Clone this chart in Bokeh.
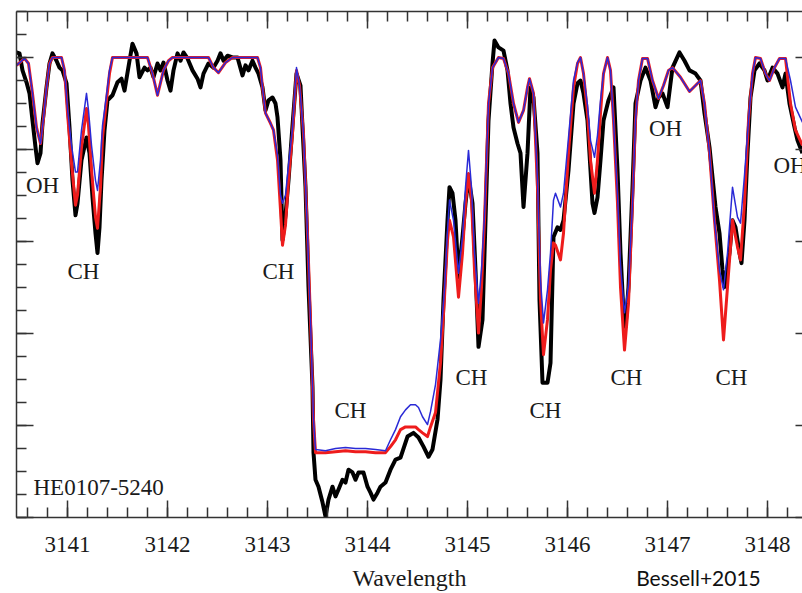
from bokeh.plotting import figure
from bokeh.models import Label, LinearAxis, SingleIntervalTicker, FixedTicker, Range1d
from bokeh.embed import file_html
from bokeh.resources import INLINE

# Observed spectrum (black)
obs_wl = [3140.49, 3140.52, 3140.55, 3140.59, 3140.62, 3140.65, 3140.68, 3140.70, 3140.73, 3140.75,
          3140.79, 3140.82, 3140.85, 3140.89, 3140.92, 3140.95, 3140.99, 3141.02, 3141.05, 3141.08,
          3141.10, 3141.14, 3141.19, 3141.22, 3141.25, 3141.28, 3141.30, 3141.32, 3141.34, 3141.37,
          3141.40, 3141.45, 3141.50, 3141.54, 3141.57, 3141.62, 3141.65, 3141.69, 3141.72, 3141.77,
          3141.80, 3141.83, 3141.86, 3141.90, 3141.93, 3141.96, 3142.00, 3142.03, 3142.06, 3142.10,
          3142.13, 3142.16, 3142.20, 3142.25, 3142.30, 3142.33, 3142.36, 3142.41, 3142.46, 3142.50,
          3142.53, 3142.56, 3142.60, 3142.65, 3142.70, 3142.75, 3142.78, 3142.81, 3142.85, 3142.88,
          3142.91, 3142.95, 3142.98, 3143.01, 3143.05, 3143.08, 3143.10, 3143.13, 3143.15, 3143.18,
          3143.21, 3143.25, 3143.29, 3143.33, 3143.35, 3143.38, 3143.41, 3143.45, 3143.46, 3143.48,
          3143.51, 3143.55, 3143.58, 3143.61, 3143.65, 3143.68, 3143.71, 3143.75, 3143.78, 3143.81,
          3143.85, 3143.88, 3143.91, 3143.96, 3144.00, 3144.03, 3144.06, 3144.10, 3144.13, 3144.18,
          3144.23, 3144.28, 3144.33, 3144.40, 3144.46, 3144.51, 3144.56, 3144.61, 3144.65, 3144.70,
          3144.73, 3144.76, 3144.80, 3144.82, 3144.85, 3144.88, 3144.91, 3144.95, 3144.98, 3145.01,
          3145.05, 3145.08, 3145.11, 3145.15, 3145.18, 3145.21, 3145.25, 3145.27, 3145.31, 3145.36,
          3145.40, 3145.43, 3145.46, 3145.50, 3145.53, 3145.56, 3145.60, 3145.63, 3145.66, 3145.70,
          3145.72, 3145.75, 3145.80, 3145.83, 3145.86, 3145.90, 3145.93, 3145.96, 3146.01, 3146.06,
          3146.10, 3146.13, 3146.16, 3146.20, 3146.23, 3146.25, 3146.27, 3146.30, 3146.33, 3146.36,
          3146.41, 3146.46, 3146.50, 3146.53, 3146.56, 3146.58, 3146.61, 3146.65, 3146.68, 3146.73,
          3146.78, 3146.83, 3146.88, 3146.91, 3146.95, 3147.00, 3147.05, 3147.12, 3147.17, 3147.22,
          3147.28, 3147.33, 3147.37, 3147.42, 3147.45, 3147.48, 3147.52, 3147.55, 3147.57, 3147.62,
          3147.65, 3147.68, 3147.72, 3147.74, 3147.77, 3147.80, 3147.83, 3147.87, 3147.92, 3147.97,
          3148.00, 3148.05, 3148.10, 3148.15, 3148.18, 3148.22, 3148.27, 3148.30, 3148.35]
obs_flux = [1.011, 1.009, 0.972, 0.946, 0.922, 0.863, 0.805, 0.770, 0.792, 0.857,
            0.935, 0.987, 1.009, 0.993, 0.978, 0.972, 0.944, 0.848, 0.733, 0.657,
            0.683, 0.777, 0.826, 0.792, 0.696, 0.618, 0.575, 0.631, 0.733, 0.842,
            0.907, 0.918, 0.946, 0.954, 0.928, 0.993, 1.030, 1.009, 0.957, 0.978,
            0.972, 0.978, 0.957, 0.987, 0.972, 0.989, 0.950, 0.928, 0.972, 1.009,
            0.993, 1.011, 0.998, 0.972, 0.954, 0.935, 0.965, 0.987, 0.978, 0.993,
            1.009, 0.993, 1.004, 1.000, 1.000, 0.961, 0.983, 0.972, 0.993, 0.978,
            0.965, 0.935, 0.885, 0.907, 0.913, 0.900, 0.870, 0.777, 0.603, 0.657,
            0.733, 0.852, 0.965, 0.939, 0.848, 0.718, 0.501, 0.284, 0.141, 0.082,
            0.067, 0.033, 0.002, 0.039, 0.067, 0.046, 0.061, 0.082, 0.076, 0.104,
            0.098, 0.082, 0.098, 0.098, 0.067, 0.054, 0.039, 0.054, 0.067, 0.076,
            0.104, 0.126, 0.130, 0.176, 0.184, 0.174, 0.154, 0.132, 0.148, 0.213,
            0.299, 0.473, 0.646, 0.718, 0.705, 0.646, 0.523, 0.610, 0.683, 0.740,
            0.683, 0.538, 0.371, 0.430, 0.646, 0.863, 0.987, 1.037, 1.022, 1.015,
            0.972, 0.900, 0.848, 0.813, 0.792, 0.675, 0.792, 0.935, 0.913, 0.792,
            0.473, 0.293, 0.293, 0.336, 0.610, 0.631, 0.625, 0.646, 0.755, 0.900,
            0.944, 0.950, 0.922, 0.863, 0.755, 0.683, 0.662, 0.696, 0.777, 0.863,
            0.907, 0.935, 0.755, 0.575, 0.445, 0.414, 0.501, 0.718, 0.900, 0.950,
            0.978, 0.950, 0.892, 0.913, 0.922, 0.892, 0.978, 1.011, 0.993, 0.972,
            0.965, 0.950, 0.879, 0.805, 0.740, 0.675, 0.618, 0.538, 0.501, 0.575,
            0.646, 0.631, 0.575, 0.553, 0.646, 0.792, 0.913, 0.972, 0.987, 0.972,
            0.950, 0.978, 0.965, 0.935, 0.965, 0.900, 0.848, 0.820, 0.792]

# Synthetic spectra (red and blue)
mod_wl = [3140.49, 3140.57, 3140.61, 3140.65, 3140.69, 3140.73, 3140.76, 3140.79, 3140.82, 3140.85,
          3140.94, 3140.97, 3141.00, 3141.04, 3141.08, 3141.10, 3141.14, 3141.19, 3141.21, 3141.24,
          3141.28, 3141.30, 3141.33, 3141.35, 3141.39, 3141.42, 3141.45, 3141.80, 3141.85, 3141.90,
          3141.96, 3142.01, 3142.05, 3142.41, 3142.46, 3142.51, 3142.58, 3142.65, 3142.90, 3142.93,
          3142.95, 3142.98, 3143.03, 3143.06, 3143.10, 3143.13, 3143.15, 3143.18, 3143.21, 3143.25,
          3143.29, 3143.32, 3143.36, 3143.40, 3143.43, 3143.46, 3143.48, 3143.58, 3143.68, 3143.78,
          3143.88, 3143.98, 3144.08, 3144.18, 3144.23, 3144.28, 3144.33, 3144.38, 3144.43, 3144.48,
          3144.51, 3144.55, 3144.60, 3144.63, 3144.68, 3144.73, 3144.77, 3144.80, 3144.82, 3144.86,
          3144.91, 3144.95, 3144.98, 3145.01, 3145.04, 3145.07, 3145.11, 3145.14, 3145.17, 3145.21,
          3145.25, 3145.31, 3145.36, 3145.41, 3145.46, 3145.51, 3145.56, 3145.60, 3145.62, 3145.66,
          3145.70, 3145.73, 3145.76, 3145.80, 3145.83, 3145.86, 3145.88, 3145.93, 3145.96, 3146.01,
          3146.06, 3146.10, 3146.13, 3146.16, 3146.20, 3146.23, 3146.27, 3146.30, 3146.33, 3146.36,
          3146.40, 3146.43, 3146.46, 3146.50, 3146.53, 3146.57, 3146.61, 3146.65, 3146.68, 3146.71,
          3146.75, 3146.80, 3146.85, 3146.91, 3146.96, 3147.01, 3147.05, 3147.13, 3147.22, 3147.28,
          3147.33, 3147.37, 3147.42, 3147.47, 3147.52, 3147.56, 3147.60, 3147.65, 3147.70, 3147.73,
          3147.77, 3147.81, 3147.85, 3147.88, 3147.93, 3147.98, 3148.02, 3148.07, 3148.12, 3148.18,
          3148.23, 3148.28, 3148.35]
red_flux = [0.983, 0.998, 0.987, 0.922, 0.848, 0.813, 0.868, 0.935, 0.987, 1.000,
            1.000, 0.972, 0.879, 0.770, 0.679, 0.701, 0.805, 0.889, 0.852, 0.755,
            0.653, 0.629, 0.718, 0.826, 0.907, 0.965, 1.000, 1.000, 0.965, 0.918,
            0.972, 0.993, 1.000, 1.000, 0.978, 0.967, 0.989, 1.000, 1.000, 0.978,
            0.935, 0.879, 0.857, 0.842, 0.777, 0.668, 0.592, 0.636, 0.733, 0.835,
            0.972, 0.939, 0.835, 0.618, 0.430, 0.213, 0.141, 0.141, 0.143, 0.145,
            0.143, 0.143, 0.141, 0.141, 0.154, 0.169, 0.191, 0.197, 0.197, 0.197,
            0.191, 0.184, 0.176, 0.197, 0.228, 0.336, 0.479, 0.603, 0.646, 0.610,
            0.479, 0.575, 0.683, 0.748, 0.690, 0.538, 0.401, 0.501, 0.646, 0.900,
            0.978, 1.000, 0.998, 0.965, 0.900, 0.859, 0.885, 0.935, 0.954, 0.922,
            0.718, 0.473, 0.354, 0.430, 0.538, 0.597, 0.592, 0.560, 0.618, 0.792,
            0.935, 0.987, 1.000, 0.965, 0.879, 0.777, 0.705, 0.777, 0.879, 0.965,
            1.000, 0.972, 0.863, 0.683, 0.501, 0.364, 0.466, 0.683, 0.863, 0.950,
            0.998, 0.998, 0.950, 0.911, 0.939, 0.972, 0.978, 0.957, 0.926, 0.939,
            0.950, 0.900, 0.792, 0.646, 0.516, 0.386, 0.501, 0.646, 0.588, 0.560,
            0.683, 0.863, 0.965, 1.000, 0.998, 0.965, 0.950, 0.978, 0.998, 0.998,
            0.900, 0.842, 0.809]
blue_flux = [0.983, 0.998, 0.987, 0.922, 0.848, 0.813, 0.868, 0.935, 0.987, 1.000,
             1.000, 0.972, 0.889, 0.809, 0.751, 0.751, 0.842, 0.922, 0.885, 0.809,
             0.733, 0.711, 0.777, 0.852, 0.918, 0.972, 1.000, 1.000, 0.965, 0.918,
             0.972, 0.993, 1.000, 1.000, 0.978, 0.967, 0.989, 1.000, 1.000, 0.978,
             0.935, 0.879, 0.857, 0.842, 0.787, 0.701, 0.683, 0.701, 0.766, 0.846,
             0.978, 0.939, 0.835, 0.618, 0.430, 0.213, 0.148, 0.145, 0.150, 0.152,
             0.150, 0.150, 0.148, 0.145, 0.169, 0.191, 0.219, 0.234, 0.245, 0.245,
             0.239, 0.219, 0.202, 0.230, 0.289, 0.386, 0.495, 0.625, 0.690, 0.646,
             0.531, 0.610, 0.718, 0.798, 0.718, 0.575, 0.466, 0.538, 0.657, 0.900,
             0.978, 1.000, 0.998, 0.965, 0.900, 0.859, 0.885, 0.935, 0.954, 0.922,
             0.733, 0.516, 0.423, 0.495, 0.575, 0.690, 0.705, 0.675, 0.705, 0.826,
             0.950, 0.989, 1.000, 0.965, 0.896, 0.820, 0.783, 0.831, 0.907, 0.965,
             1.000, 0.972, 0.863, 0.701, 0.549, 0.445, 0.505, 0.683, 0.863, 0.950,
             0.998, 0.998, 0.950, 0.911, 0.939, 0.972, 0.978, 0.957, 0.926, 0.939,
             0.950, 0.900, 0.792, 0.646, 0.538, 0.495, 0.575, 0.718, 0.653, 0.640,
             0.744, 0.863, 0.965, 1.000, 0.998, 0.965, 0.950, 0.978, 0.998, 0.998,
             0.950, 0.892, 0.859]

# Feature labels
label_text = ["OH", "CH", "CH", "CH", "CH", "CH", "CH", "OH", "CH"]
label_x = [3140.75, 3141.16, 3143.11, 3143.83, 3145.04, 3145.78, 3146.59, 3146.98, 3147.64]
label_y = [0.722, 0.534, 0.534, 0.232, 0.304, 0.232, 0.304, 0.846, 0.304]

credit_text = "Bessell+2015"
credit_x = 3147.31

SERIF = "Liberation Serif"
AX = "#333333"
TXT = "#1a1a1a"

p = figure(width=802, height=593, output_backend="svg", toolbar_location=None,
           x_range=Range1d(3140.49, 3148.35), y_range=Range1d(0.0, 1.1),
           x_axis_location=None, y_axis_location=None,
           min_border_left=16, min_border_right=0, min_border_top=11, min_border_bottom=75)
p.grid.visible = False
p.outline_line_color = None
p.background_fill_color = "white"
p.border_fill_color = "white"


def make_axis(ticker, major_in, minor_in, labels, line=True):
    ax = LinearAxis(ticker=ticker, major_tick_in=major_in, major_tick_out=0,
                    minor_tick_in=minor_in, minor_tick_out=0,
                    major_tick_line_color=AX, minor_tick_line_color=AX if minor_in else None,
                    major_tick_line_width=1.5, minor_tick_line_width=1.5,
                    axis_line_color=AX if line else None, axis_line_width=1.5)
    if labels:
        ax.major_label_text_font = SERIF
        ax.major_label_text_font_size = "23px"
        ax.major_label_text_color = TXT
        ax.major_label_standoff = 19
    else:
        ax.major_label_text_font_size = "0px"
        ax.major_label_text_color = None
        ax.major_label_standoff = 0
    return ax


xb = make_axis(SingleIntervalTicker(interval=1, num_minor_ticks=5), 17, 10, True)
xb.axis_label = "Wavelength"
xb.axis_label_text_font = SERIF
xb.axis_label_text_font_size = "24px"
xb.axis_label_text_font_style = "normal"
xb.axis_label_text_color = TXT
xb.axis_label_standoff = 10
p.add_layout(xb, "below")
p.add_layout(make_axis(SingleIntervalTicker(interval=1, num_minor_ticks=5), 17, 10, False), "above")
p.add_layout(make_axis(SingleIntervalTicker(interval=0.2, num_minor_ticks=4), 17, 10, False), "left")
p.add_layout(make_axis(SingleIntervalTicker(interval=0.2, num_minor_ticks=4), 7, 0, False, line=False), "right")

# credit text in the bottom-right corner, drawn as the only label of a bare extra axis
credit_axis = LinearAxis(ticker=FixedTicker(ticks=[credit_x], minor_ticks=[]),
                         major_label_overrides={credit_x: credit_text},
                         major_tick_in=0, major_tick_out=0, minor_tick_in=0, minor_tick_out=0,
                         major_tick_line_color=None, minor_tick_line_color=None,
                         axis_line_color=None,
                         major_label_text_font="Lato", major_label_text_font_size="21px",
                         major_label_text_color="#111111")
try:
    credit_axis.major_label_text_align = "left"
except Exception:
    pass
try:
    credit_axis.major_label_standoff = -29
    p.add_layout(credit_axis, "below")
except Exception:
    pass

p.line(obs_wl, obs_flux, line_color="black", line_width=4, line_join="round")
p.line(mod_wl, red_flux, line_color="#ee1c1c", line_width=3, line_join="round")
p.line(mod_wl, blue_flux, line_color="#2a2ad6", line_width=1.5, line_join="round")

for t, x, y in zip(label_text, label_x, label_y):
    p.add_layout(Label(x=x, y=y, text=t, text_font=SERIF, text_font_size="23px",
                       text_color=TXT, text_align="center", text_baseline="middle"))

p.add_layout(Label(x=3148.06, y=0.766, text="OH", text_font=SERIF, text_font_size="23px",
                   text_color=TXT, text_align="left", text_baseline="middle"))
p.add_layout(Label(x=3140.66, y=0.065, text="HE0107-5240", text_font=SERIF, text_font_size="23px",
                   text_color=TXT, text_align="left", text_baseline="middle"))

open("out.html", "w").write(file_html(p, INLINE))
